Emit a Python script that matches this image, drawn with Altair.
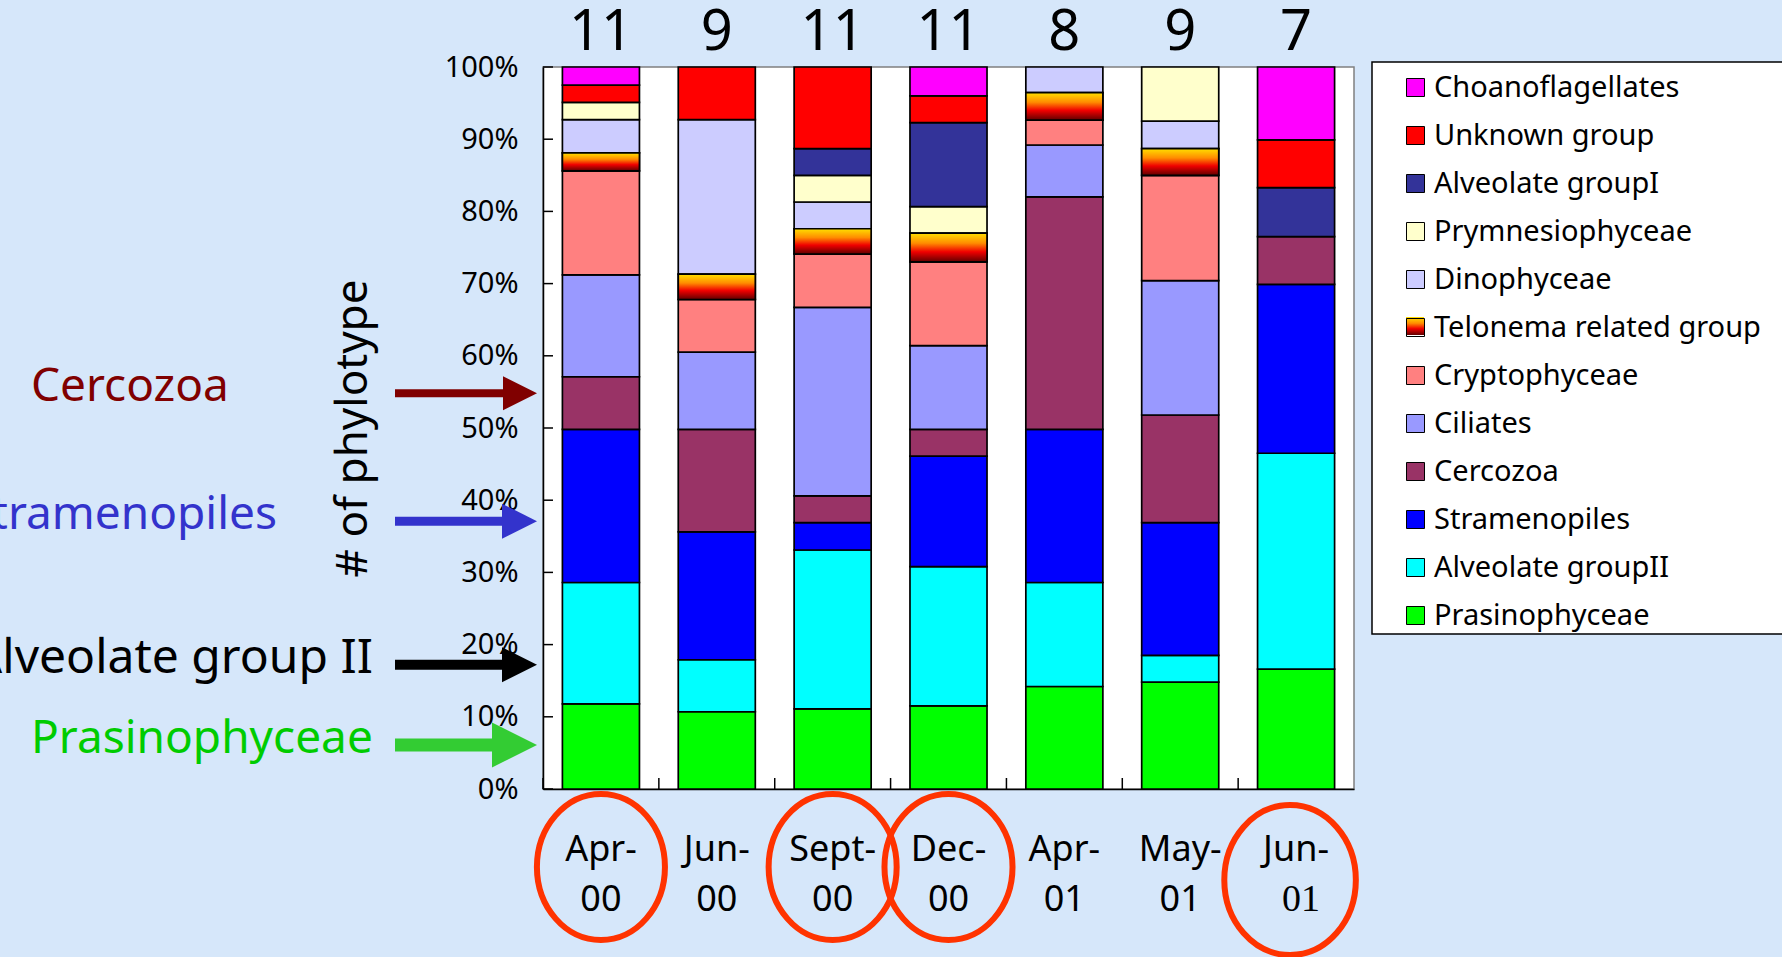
import altair as alt
import pandas as pd

FONT = "Noto Sans"

# ---------------- data ----------------
dates = ["Apr-00", "Jun-00", "Sept-00", "Dec-00", "Apr-01", "May-01", "Jun-01"]
months = ["Apr-", "Jun-", "Sept-", "Dec-", "Apr-", "May-", "Jun-"]
years = ["00", "00", "00", "00", "01", "01", "01"]
counts = [11, 9, 11, 11, 8, 9, 7]

# legend order (top to bottom); stacking is the reverse
groups = ["Choanoflagellates", "Unknown group", "Alveolate groupI", "Prymnesiophyceae",
          "Dinophyceae", "Telonema related group", "Cryptophyceae", "Ciliates",
          "Cercozoa", "Stramenopiles", "Alveolate groupII", "Prasinophyceae"]

choanoflagellates = [2.5, 0, 0, 4.0, 0, 0, 10.1]
unknown_group = [2.4, 7.3, 11.3, 3.7, 0, 0, 6.6]
alveolate_group1 = [0, 0, 3.7, 11.65, 0, 0, 6.8]
prymnesiophyceae = [2.4, 0, 3.7, 3.65, 0, 7.5, 0]
dinophyceae = [4.6, 21.4, 3.7, 0, 3.55, 3.8, 0]
telonema = [2.5, 3.5, 3.5, 4.0, 3.8, 3.7, 0]
cryptophyceae = [14.4, 7.3, 7.4, 11.6, 3.45, 14.6, 0]
ciliates = [14.1, 10.7, 26.1, 11.6, 7.2, 18.6, 0]
cercozoa = [7.3, 14.2, 3.7, 3.7, 32.2, 14.9, 6.6]
stramenopiles = [21.2, 17.7, 3.8, 15.3, 21.2, 18.4, 23.4]
alveolate_group2 = [16.8, 7.2, 22.0, 19.3, 14.4, 3.7, 29.9]
prasinophyceae = [11.8, 10.7, 11.1, 11.5, 14.2, 14.8, 16.6]

series_values = [choanoflagellates, unknown_group, alveolate_group1, prymnesiophyceae,
                 dinophyceae, telonema, cryptophyceae, ciliates, cercozoa,
                 stramenopiles, alveolate_group2, prasinophyceae]

circled = ["Apr-00", "Sept-00", "Dec-00"]
circled_last = ["Jun-01"]
ytick_values = [0, 10, 20, 30, 40, 50, 60, 70, 80, 90, 100]

annot_labels = ["Cercozoa", "Stramenopiles", "Alveolate group II", "Prasinophyceae"]
annot_pct = [54.8, 37.1, 17.2, 6.1]

# ---------------- styles ----------------
group_colors = ["#FF00FF", "#FF0000", "#333399", "#FFFFCC", "#CCCCFF", "transparent",
                "#FF8080", "#9999FF", "#993366", "#0000FF", "#00FFFF", "#00FF00"]
telonema_gradient = alt.LinearGradient(
    gradient="linear",
    stops=[alt.GradientStop(color="#FFE000", offset=0),
           alt.GradientStop(color="#FF8C00", offset=0.35),
           alt.GradientStop(color="#F00000", offset=0.65),
           alt.GradientStop(color="#600000", offset=1)],
    x1=0, x2=0, y1=0, y2=1)

W, H = 811, 722

# ---------------- tables ----------------
rows = []
for i, d in enumerate(dates):
    base = 0.0
    for g, vals in reversed(list(zip(groups, series_values))):
        v = vals[i]
        if v > 0:
            rows.append({"date": d, "group": g, "y0": base, "y1": base + v})
        base += v
df = pd.DataFrame(rows)
tel_df = df[df["group"] == "Telonema related group"]

lab_df = pd.DataFrame({"date": dates, "month": months, "year": years, "count": counts})

x_scale = alt.Scale(domain=dates, paddingInner=0.335, paddingOuter=0.1675)
x_axis = alt.Axis(labels=False, ticks=False, title=None, domainColor="black",
                  domainWidth=1.5, grid=False)
y_scale = alt.Scale(domain=[0, 100], nice=False)
y_axis = alt.Axis(values=ytick_values, labelExpr="datum.value + '%'", ticks=False,
                  labelPadding=25, labelFontSize=29, labelFont=FONT, labelColor="black",
                  domainColor="black", domainWidth=1.5, grid=False,
                  title="# of phylotype", titleFontSize=44, titleFont=FONT,
                  titleFontWeight="normal", titleAngle=270, titleX=-190, titleY=361,
                  titleColor="black", titleBaseline="middle", titleAlign="center")


def xe(**kw):
    return alt.X("date:N", sort=dates, scale=x_scale, axis=x_axis, **kw)


def ye(field):
    return alt.Y(field, scale=y_scale, axis=y_axis)


bars = alt.Chart(df).mark_bar(stroke="black", strokeWidth=1.7, opacity=1).encode(
    x=xe(),
    y=ye("y0:Q"),
    y2="y1:Q",
    color=alt.Color("group:N", scale=alt.Scale(domain=groups, range=group_colors),
                    legend=alt.Legend(title=None, orient="none", legendX=858, legendY=6,
                                      symbolType="square", symbolSize=324,
                                      symbolStrokeColor="black", symbolStrokeWidth=1,
                                      symbolOpacity=1, labelFont=FONT, labelFontSize=29,
                                      labelColor="black", labelLimit=500, labelOffset=4,
                                      rowPadding=18, padding=0)),
)

tel_bars = alt.Chart(tel_df).mark_bar(fill=telonema_gradient, stroke="black",
                                      strokeWidth=1.7).encode(
    x=xe(), y=ye("y0:Q"), y2="y1:Q")

xticks = alt.Chart(lab_df).mark_rule(color="black", strokeWidth=1.5, xOffset=-19.4).encode(
    x=xe(bandPosition=0), y=alt.value(H - 11), y2=alt.value(H))

yticks = alt.Chart(pd.DataFrame({"pct": ytick_values})).mark_rule(
    color="black", strokeWidth=1.5).encode(
    y=ye("pct:Q"), x=alt.value(0), x2=alt.value(10))

count_text = alt.Chart(lab_df).mark_text(font=FONT, fontSize=56, baseline="alphabetic",
                                         color="black").encode(
    x=xe(), y=alt.value(-17), text="count:N")

month_text = alt.Chart(lab_df).mark_text(font=FONT, fontSize=36, baseline="middle",
                                         color="black").encode(
    x=xe(), y=alt.value(H + 61), text="month:N")

year_text = alt.Chart(lab_df).transform_filter(alt.datum.date != "Jun-01").mark_text(
    font=FONT, fontSize=36, baseline="middle", color="black").encode(
    x=xe(), y=alt.value(H + 111), text="year:N")

year_text_serif = alt.Chart(lab_df).transform_filter(alt.datum.date == "Jun-01").mark_text(
    font="Liberation Serif", fontSize=38, baseline="middle", color="black", dx=5).encode(
    x=xe(), y=alt.value(H + 111), text="year:N")

ellipse_path = "M -0.877 0 A 0.877 1 0 1 0 0.877 0 A 0.877 1 0 1 0 -0.877 0 Z"
ellipses = alt.Chart(pd.DataFrame({"date": circled})).mark_point(
    shape=ellipse_path, size=146 * 146, filled=False, stroke="#FF3300", strokeWidth=6,
    opacity=1).encode(x=xe(), y=alt.value(H + 78))
ellipse_last = alt.Chart(pd.DataFrame({"date": circled_last})).mark_point(
    shape=ellipse_path, size=150 * 150, filled=False, stroke="#FF3300", strokeWidth=6,
    opacity=1, xOffset=-6).encode(x=xe(), y=alt.value(H + 91))

legend_box = alt.Chart(pd.DataFrame({"k": [0]})).mark_rect(
    fill="white", stroke="black", strokeWidth=1.5).encode(
    x=alt.value(829), x2=alt.value(1782 - 543 + 20), y=alt.value(-5), y2=alt.value(567))

legend_grad = alt.Chart(pd.DataFrame({"k": [0]})).mark_rect(fill=telonema_gradient).encode(
    x=alt.value(863), x2=alt.value(881), y=alt.value(250), y2=alt.value(268))

# annotations on the left
annot_style = [
    {"color": "#800000", "arrow": "#800000", "x": -512, "align": "left", "shaft": 8,
     "head": 34, "size": 46},
    {"color": "#3333CC", "arrow": "#3333CC", "x": -266, "align": "right", "shaft": 9,
     "head": 35, "size": 46},
    {"color": "black", "arrow": "black", "x": -170, "align": "right", "shaft": 10,
     "head": 35, "size": 48},
    {"color": "#00CC00", "arrow": "#33CC33", "x": -512, "align": "left", "shaft": 13,
     "head": 45, "size": 46},
]
tri_path = "M -1 -1 L 1 0 L -1 1 Z"
annot_layers = []
for lab, pct, st in zip(annot_labels, annot_pct, annot_style):
    adf = pd.DataFrame({"label": [lab], "pct": [pct]})
    base = alt.Chart(adf)
    annot_layers.append(base.mark_text(font=FONT, fontSize=st["size"], align=st["align"],
                                       baseline="alphabetic", dy=8, color=st["color"]).encode(
        x=alt.value(st["x"]), y=ye("pct:Q"), text="label:N"))
    annot_layers.append(base.mark_rule(color=st["arrow"], strokeWidth=st["shaft"]).encode(
        x=alt.value(-148), x2=alt.value(-6 - st["head"] + 2), y=ye("pct:Q")))
    annot_layers.append(base.mark_point(shape=tri_path, size=st["head"] ** 2, filled=True,
                                        color=st["arrow"], opacity=1).encode(
        x=alt.value(-6 - st["head"] / 2), y=ye("pct:Q")))

chart = alt.layer(
    legend_box, legend_grad, bars, tel_bars, xticks, yticks, count_text, month_text,
    year_text, year_text_serif, ellipses, ellipse_last, *annot_layers
).properties(
    width=W, height=H,
    autosize=alt.AutoSizeParams(type="none"),
    padding={"left": 543, "top": 67, "right": 1782 - 543 - W, "bottom": 957 - 67 - H},
    background="#D6E7FA",
).configure_view(fill="white", stroke="#808080", strokeWidth=1.5)

chart.save("out.html", embed_options={"renderer": "svg", "actions": False})
